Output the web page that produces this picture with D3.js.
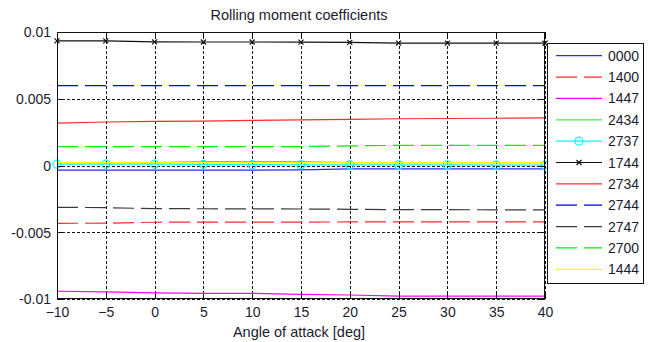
<!DOCTYPE html>
<html>
<head>
<meta charset="utf-8">
<script src="https://cdn.jsdelivr.net/npm/d3@7"></script>
<style>
  html, body { margin: 0; padding: 0; background: #fff; }
  svg { display: block; font-family: "Liberation Sans", Arial, sans-serif; }
</style>
</head>
<body>
<svg id="chart" width="650" height="342"></svg>
<script>
// ---- data ----
const angles = [-10, -5, 0, 5, 10, 15, 20, 25, 30, 35, 40];
const xTicks = [-10, -5, 0, 5, 10, 15, 20, 25, 30, 35, 40];
const yTicks = [-0.01, -0.005, 0, 0.005, 0.01];
const yTickLabels = ["-0.01", "-0.005", "0", "0.005", "0.01"];
const seriesNames = ["0000", "1400", "1447", "2434", "2737", "1744", "2734", "2744", "2747", "2700", "1444"];

const s0000 = [-0.00034, -0.00034, -0.00034, -0.00034, -0.00034, -0.00033, -0.00026, -0.00026, -0.00026, -0.00026, -0.00026];
const s1400 = [-0.00433, -0.00432, -0.00425, -0.00424, -0.00424, -0.00424, -0.00423, -0.00423, -0.00423, -0.00423, -0.00423];
const s1447 = [-0.00942, -0.00946, -0.00954, -0.00958, -0.00958, -0.00965, -0.00970, -0.00978, -0.00979, -0.00979, -0.00979];
const s2434 = [0.00021, 0.00021, 0.00022, 0.00029, 0.00029, 0.00029, 0.00021, 0.00021, 0.00021, 0.00021, 0.00021];
const s2737 = [0.00010, 0.00010, 0.00010, 0.00009, 0.00006, 0.00005, 0.00004, 0.00004, 0.00004, 0.00003, 0.00003];
const s1744 = [0.00934, 0.00933, 0.00926, 0.00925, 0.00925, 0.00924, 0.00922, 0.00917, 0.00917, 0.00917, 0.00916];
const s2734 = [0.00318, 0.00326, 0.00330, 0.00332, 0.00338, 0.00342, 0.00345, 0.00350, 0.00352, 0.00354, 0.00356];
const s2744 = [0.00598, 0.00598, 0.00598, 0.00598, 0.00598, 0.00598, 0.00598, 0.00598, 0.00598, 0.00598, 0.00598];
const s2747 = [-0.00313, -0.00316, -0.00323, -0.00324, -0.00325, -0.00326, -0.00328, -0.00331, -0.00331, -0.00332, -0.00332];
const s2700 = [0.00141, 0.00141, 0.00141, 0.00141, 0.00141, 0.00142, 0.00147, 0.00151, 0.00151, 0.00151, 0.00151];
const s1444 = [0.00021, 0.00021, 0.00021, 0.00021, 0.00021, 0.00021, 0.00021, 0.00021, 0.00021, 0.00021, 0.00021];

const seriesValues = [s0000, s1400, s1447, s2434, s2737, s1744, s2734, s2744, s2747, s2700, s1444];
const seriesColors = ["#2a2aff", "#ff2a2a", "#ff00ff", "#44ee44", "#00ffff", "#111111", "#ff2a2a", "#0000ee", "#3a3a3a", "#00ee00", "#ffff00"];
const seriesDash = ["", "21,7", "", "", "", "", "", "21,7", "21,7", "21,7", ""];
const seriesMarker = ["", "", "", "", "o", "x", "", "", "", "", ""];

// ---- layout ----
const L = 57, R = 545, T = 32, B = 299;
const svg = d3.select("#chart");
const x = d3.scaleLinear().domain([-10, 40]).range([L, R]);
const y = d3.scaleLinear().domain([-0.01, 0.01]).range([B, T]);

// grid
const grid = svg.append("g");
grid.append("g").attr("transform", `translate(0,${B})`)
  .call(d3.axisBottom(x).tickValues(xTicks).tickSize(-(B - T)).tickFormat(""))
  .call(g => g.select(".domain").remove())
  .selectAll("line").attr("stroke", "#111").attr("stroke-dasharray", "3,2").attr("shape-rendering", "crispEdges");
grid.append("g").attr("transform", `translate(${L},0)`)
  .call(d3.axisLeft(y).tickValues(yTicks).tickSize(-(R - L)).tickFormat(""))
  .call(g => g.select(".domain").remove())
  .selectAll("line").attr("stroke", "#111").attr("stroke-dasharray", "3,2").attr("shape-rendering", "crispEdges");

// series
const line = d3.line().x((d, i) => x(angles[i])).y(d => y(d));
const plot = svg.append("g");
seriesValues.forEach((vals, k) => {
  plot.append("path")
    .attr("d", line(vals))
    .attr("fill", "none")
    .attr("stroke", seriesColors[k])
    .attr("stroke-width", 1.2)
    .attr("stroke-dasharray", seriesDash[k] || null);
  if (seriesMarker[k] === "o") {
    plot.selectAll(null).data(vals).enter().append("circle")
      .attr("cx", (d, i) => x(angles[i])).attr("cy", d => y(d)).attr("r", 4)
      .attr("fill", "none").attr("stroke", seriesColors[k]).attr("stroke-width", 1.2);
  } else if (seriesMarker[k] === "x") {
    const xs = plot.selectAll(null).data(vals).enter().append("path")
      .attr("d", (d, i) => {
        const cx = x(angles[i]), cy = y(d), s = 2.5;
        return `M${cx - s},${cy - s}L${cx + s},${cy + s}M${cx - s},${cy + s}L${cx + s},${cy - s}`;
      })
      .attr("stroke", seriesColors[k]).attr("stroke-width", 1.2).attr("fill", "none");
  }
});

// axes box and inward ticks
const ax = svg.append("g");
ax.append("rect").attr("x", L + 0.5).attr("y", T + 0.5).attr("width", R - L - 1).attr("height", B - T - 1)
  .attr("fill", "none").attr("stroke", "#111").attr("stroke-width", 1);
xTicks.forEach(t => {
  const px = Math.round(x(t)) + 0.5;
  ax.append("line").attr("x1", px).attr("x2", px).attr("y1", B).attr("y2", B - 5).attr("stroke", "#111");
  ax.append("line").attr("x1", px).attr("x2", px).attr("y1", T).attr("y2", T + 5).attr("stroke", "#111");
});
yTicks.forEach(t => {
  const py = Math.round(y(t)) + 0.5;
  ax.append("line").attr("x1", L).attr("x2", L + 5).attr("y1", py).attr("y2", py).attr("stroke", "#111");
  ax.append("line").attr("x1", R).attr("x2", R - 5).attr("y1", py).attr("y2", py).attr("stroke", "#111");
});

// tick labels
const xLab = svg.append("g").attr("transform", `translate(0,${B})`)
  .call(d3.axisBottom(x).tickValues(xTicks).tickSize(0).tickPadding(0).tickFormat(d3.format("d")));
xLab.select(".domain").remove();
xLab.selectAll("text").attr("dy", null).attr("y", 18).attr("font-size", 14)
  .attr("font-family", "Liberation Sans, Arial, sans-serif").attr("fill", "#1c1c30");

const yLab = svg.append("g").attr("transform", `translate(${L},0)`)
  .call(d3.axisLeft(y).tickValues(yTicks).tickSize(0).tickPadding(0).tickFormat((d, i) => yTickLabels[i]));
yLab.select(".domain").remove();
yLab.selectAll("text").attr("x", -6).attr("dy", "0.35em").attr("font-size", 14)
  .attr("font-family", "Liberation Sans, Arial, sans-serif").attr("fill", "#1c1c30");

// title and axis label
svg.append("text").attr("x", (L + R) / 2 - 2).attr("y", 20).attr("text-anchor", "middle")
  .attr("font-size", 14.5).attr("fill", "#1c1c30").text("Rolling moment coefficients");
svg.append("text").attr("x", (L + R) / 2 - 2).attr("y", 337).attr("text-anchor", "middle")
  .attr("font-size", 14.5).attr("fill", "#1c1c30").text("Angle of attack [deg]");

// legend
const lg = svg.append("g");
lg.append("rect").attr("x", 547.5).attr("y", 43.5).attr("width", 96).attr("height", 240)
  .attr("fill", "#fff").attr("stroke", "#111").attr("stroke-width", 1);
seriesNames.forEach((name, k) => {
  const cy = 55.7 + k * 21.36;
  lg.append("line").attr("x1", 556).attr("x2", 602).attr("y1", cy).attr("y2", cy)
    .attr("stroke", seriesColors[k]).attr("stroke-width", 1.2)
    .attr("stroke-dasharray", seriesDash[k] || null);
  if (seriesMarker[k] === "o") {
    lg.append("circle").attr("cx", 579).attr("cy", cy).attr("r", 4)
      .attr("fill", "none").attr("stroke", seriesColors[k]).attr("stroke-width", 1.2);
  } else if (seriesMarker[k] === "x") {
    const s = 2.5;
    lg.append("path").attr("d", `M${579 - s},${cy - s}L${579 + s},${cy + s}M${579 - s},${cy + s}L${579 + s},${cy - s}`)
      .attr("stroke", seriesColors[k]).attr("stroke-width", 1.2);
  }
  lg.append("text").attr("x", 608).attr("y", cy).attr("dy", "0.36em")
    .attr("font-size", 14).attr("fill", "#1c1c30").text(name);
});
</script>
</body>
</html>
